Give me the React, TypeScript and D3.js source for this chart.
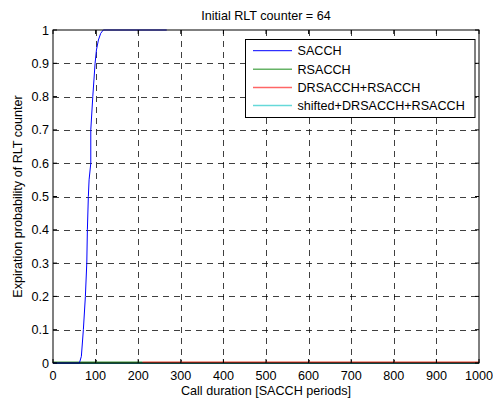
import React from "react";
import * as d3 from "d3";

const W = 493;
const H = 403;
const margin = { left: 53, right: 14, top: 30, bottom: 40 };

const xTicks = [0, 100, 200, 300, 400, 500, 600, 700, 800, 900, 1000];
const yTicks = [0, 0.1, 0.2, 0.3, 0.4, 0.5, 0.6, 0.7, 0.8, 0.9, 1];

const saccX = [0, 62, 66.6, 71.3, 76, 79.3, 80.7, 83, 84.7, 88.7, 88.7, 93.4, 98.8, 102, 106.6, 112, 118, 267];
const saccY = [0, 0, 0.02, 0.1, 0.2, 0.3, 0.4, 0.5, 0.55, 0.6, 0.7, 0.8, 0.9, 0.94, 0.97, 0.99, 1, 1];

const rsacchX = [0, 210];
const rsacchY = [0.002, 0.002];
const drsacchX = [210, 1000];
const drsacchY = [0.002, 0.002];
const shiftedX = [0, 1000];
const shiftedY = [0, 0];

const seriesNames = ["SACCH", "RSACCH", "DRSACCH+RSACCH", "shifted+DRSACCH+RSACCH"];
const seriesColors = ["#0000ff", "#3d9a3d", "#e8452c", "#1a8a8a"];
const legendColors = ["#0000ff", "#008000", "#ff0000", "#00bfbf"];

export default function App() {
  const x = d3.scaleLinear().domain([0, 1000]).range([margin.left, W - margin.right]);
  const y = d3.scaleLinear().domain([0, 1]).range([H - margin.bottom, margin.top]);
  const line = d3
    .line<[number, number]>()
    .x((d) => x(d[0]))
    .y((d) => y(d[1]));
  const zip = (a: number[], b: number[]) => a.map((v, i) => [v, b[i]] as [number, number]);

  const x0 = x(0), x1 = x(1000), y0 = y(0), y1 = y(1);
  const font = "Arial, 'Liberation Sans', sans-serif";
  const fs = 12.6;
  const tickLen = 4;

  const lx = 245.5, ly = 39.5, lw = 229.5, lh = 78;
  const rowY = [50.7, 69.3, 87.5, 105.5];

  return (
    <svg width={W} height={H} style={{ position: "absolute", left: 0, top: 0, background: "#fff" }} fontFamily={font}>
      <rect x={0} y={0} width={W} height={H} fill="#fff" />
      <rect x={x0} y={y1} width={x1 - x0} height={y0 - y1} fill="#fff" />
      {/* grid */}
      {xTicks.slice(1, -1).map((t) => (
        <line key={"gx" + t} x1={Math.round(x(t)) + 0.5} x2={Math.round(x(t)) + 0.5} y1={y1} y2={y0} stroke="#000" strokeOpacity={0.75} strokeDasharray="6,5" />
      ))}
      {yTicks.slice(1, -1).map((t) => (
        <line key={"gy" + t} y1={Math.round(y(t)) + 0.5} y2={Math.round(y(t)) + 0.5} x1={x0} x2={x1} stroke="#000" strokeOpacity={0.75} strokeDasharray="6,5" />
      ))}
      {/* series */}
      <path d={line(zip(shiftedX, shiftedY)) || ""} fill="none" stroke={seriesColors[3]} strokeWidth={2} />
      <path d={line(zip(rsacchX, rsacchY)) || ""} fill="none" stroke={seriesColors[1]} strokeWidth={1.5} />
      <path d={line(zip(drsacchX, drsacchY)) || ""} fill="none" stroke={seriesColors[2]} strokeWidth={1.5} />
      <path d={line(zip(saccX, saccY)) || ""} fill="none" stroke={seriesColors[0]} strokeWidth={1} />
      {/* box */}
      <rect x={x0} y={y1} width={x1 - x0} height={y0 - y1} fill="none" stroke="#000" strokeWidth={1} />
      {/* ticks */}
      {xTicks.map((t) => (
        <g key={"tx" + t}>
          <line x1={x(t)} x2={x(t)} y1={y0} y2={y0 - tickLen} stroke="#000" />
          <line x1={x(t)} x2={x(t)} y1={y1} y2={y1 + tickLen} stroke="#000" />
          <text x={x(t)} y={y0 + 16.5} fontSize={fs} textAnchor="middle" fill="#000">{t}</text>
        </g>
      ))}
      {yTicks.map((t) => (
        <g key={"ty" + t}>
          <line x1={x0} x2={x0 + tickLen} y1={y(t)} y2={y(t)} stroke="#000" />
          <line x1={x1} x2={x1 - tickLen} y1={y(t)} y2={y(t)} stroke="#000" />
          <text x={x0 - 4} y={y(t) + 4.5} fontSize={fs} textAnchor="end" fill="#000">{d3.format("~g")(t)}</text>
        </g>
      ))}
      {/* labels */}
      <text x={(x0 + x1) / 2} y={19.5} fontSize={fs} textAnchor="middle" fill="#000">Initial RLT counter = 64</text>
      <text x={(x0 + x1) / 2} y={395} fontSize={fs} textAnchor="middle" fill="#000">Call duration [SACCH periods]</text>
      <text transform={`translate(22, ${(y0 + y1) / 2}) rotate(-90)`} fontSize={fs} textAnchor="middle" fill="#000">Expiration probability of RLT counter</text>
      {/* legend */}
      <rect x={lx} y={ly} width={lw} height={lh} fill="#fff" stroke="#000" />
      {seriesNames.map((n, i) => (
        <g key={n}>
          <line x1={253} x2={292} y1={rowY[i]} y2={rowY[i]} stroke={legendColors[i]} strokeOpacity={i === 0 ? 1 : 0.6} strokeWidth={i === 0 ? 1 : 1.5} />
          <text x={297.5} y={rowY[i] + 4.5} fontSize={fs} fill="#000">{n}</text>
        </g>
      ))}
    </svg>
  );
}
